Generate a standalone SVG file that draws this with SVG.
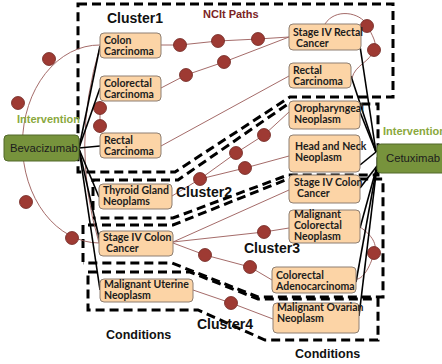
<svg xmlns="http://www.w3.org/2000/svg" width="442" height="364" viewBox="0 0 442 364">
  <defs>
    <style>
      .cond { fill: #fcd4a6; stroke: #8e7f72; stroke-width: 1; }
      .drug { fill: #77933c; stroke: #52692a; stroke-width: 1; }
      .nt { font-family: Lato, "Liberation Sans", sans-serif; font-weight: 700; font-size: 10.5px; fill: #1c1c1c; }
      .dt { font-family: "Liberation Sans", Arial, sans-serif; font-size: 11.3px; fill: #1c1c1c; }
      .cl { font-family: "Liberation Sans", Arial, sans-serif; font-weight: 700; font-size: 14px; fill: #111; }
      .cap { font-family: "Liberation Sans", Arial, sans-serif; font-weight: 700; font-size: 12.5px; fill: #111; }
      .iv { font-family: "Liberation Sans", Arial, sans-serif; font-weight: 700; font-size: 11px; fill: #8aa83c; }
      .ncit { font-family: "Liberation Sans", Arial, sans-serif; font-weight: 700; font-size: 11px; fill: #7b2424; }
      .box { fill: none; stroke: #000; stroke-width: 3; stroke-dasharray: 9 5; }
      .path { fill: none; stroke: #9a5a58; stroke-width: 0.9; }
      .link { fill: none; stroke: #000; stroke-width: 1.6; }
      .dot { fill: #9e3a33; stroke: #6e2420; stroke-width: 0.8; }
    </style>
  </defs>

  <rect width="442" height="364" fill="#fff"/>

  <!-- cluster outlines -->
  <g id="clusters">
    <path class="box" d="M78,4 H393 V97 H290 L175,172 H78 Z"/>
    <path class="box" d="M93,210 V180 H178 L288,104 H378 V175 H288 L173,218 H93"/>
    <path class="box" d="M83,262 V225 H173 L288,179 H383 V297 H258 L172,263 H83"/>
    <path class="box" d="M88,272 H190 L258,299 H378 V340 H265 L198,310 H88 Z"/>
  </g>

  <!-- connectors: NCIt paths (brown with path nodes) and intervention links (black) -->
  <g id="connectors">
    <path class="path" d="M100,45 A77,99 0 1 0 99,243"/>
    <path class="path" d="M100,47 Q70,145 99,243"/>
    <path class="path" d="M161,45 L180,45 L218,41 L258,39 L289,37"/>
    <path class="path" d="M161,88 L186,75 L224,62 L289,37"/>
    <path class="path" d="M161,146 L289,76"/>
    <path class="path" d="M100,101 V133"/>
    <path class="path" d="M325,24 C335,8 360,12 367,25 C372,35 378,44 374,50 C370,62 355,65 352,78"/>
    <path class="path" d="M172,196 L200,179 L236,153 L264,135 L289,112"/>
    <path class="path" d="M200,179 L245,168 L289,156"/>
    <path class="path" d="M173,242 L289,190"/>
    <path class="path" d="M173,242 L264,232 L289,228"/>
    <path class="path" d="M173,243 L205,255 L250,267 L272,280"/>
    <path class="path" d="M360,227 C372,235 378,245 374,253 C370,268 362,280 356,279"/>
    <path class="path" d="M193,290 L231,303 L273,319"/>

    <g>
      <circle class="dot" cx="49" cy="59" r="6.5"/>
      <circle class="dot" cx="18" cy="103" r="6.5"/>
      <circle class="dot" cx="26" cy="202" r="6.5"/>
      <circle class="dot" cx="72" cy="238" r="6.5"/>
      <circle class="dot" cx="180" cy="45" r="6.5"/>
      <circle class="dot" cx="218" cy="41" r="6.5"/>
      <circle class="dot" cx="258" cy="39" r="6.5"/>
      <circle class="dot" cx="186" cy="75" r="6.5"/>
      <circle class="dot" cx="224" cy="62" r="6.5"/>
      <circle class="dot" cx="100" cy="108" r="6.5"/>
      <circle class="dot" cx="100" cy="126" r="6.5"/>
      <circle class="dot" cx="367" cy="26" r="6.5"/>
      <circle class="dot" cx="374" cy="50" r="6.5"/>
      <circle class="dot" cx="200" cy="179" r="6.5"/>
      <circle class="dot" cx="236" cy="153" r="6.5"/>
      <circle class="dot" cx="264" cy="135" r="6.5"/>
      <circle class="dot" cx="245" cy="168" r="6.5"/>
      <circle class="dot" cx="264" cy="232" r="6.5"/>
      <circle class="dot" cx="205" cy="255" r="6.5"/>
      <circle class="dot" cx="250" cy="267" r="6.5"/>
      <circle class="dot" cx="374" cy="253" r="6.5"/>
      <circle class="dot" cx="231" cy="303" r="6.5"/>
    </g>

    <path class="link" d="M79,148 L100,46"/>
    <path class="link" d="M79,148 L100,88"/>
    <path class="link" d="M79,148 L100,146"/>
    <path class="link" d="M79,149 L99,197"/>
    <path class="link" d="M79,149 L100,242"/>
    <path class="link" d="M79,149 L100,290"/>

    <path class="link" d="M360,46 L376,152"/>
    <path class="link" d="M351,76 L376,152"/>
    <path class="link" d="M360,112 L376,152"/>
    <path class="link" d="M360,165 L376,152"/>
    <path class="link" d="M360,188 L377,166"/>
    <path class="link" d="M360,228 L377,166"/>
    <path class="link" d="M356,282 L377,166"/>
    <path class="link" d="M359,316 L377,166"/>
  </g>

  <!-- intervention nodes -->
  <g id="bevacizumab">
    <rect class="drug" x="4" y="135" width="75" height="26" rx="4"/>
    <text class="dt" x="10" y="152">Bevacizumab</text>
  </g>
  <g id="cetuximab">
    <rect class="drug" x="377" y="144" width="72" height="29" rx="4"/>
    <text class="dt" x="386" y="162">Cetuximab</text>
  </g>

  <!-- condition nodes -->
  <g id="colon-carcinoma">
    <rect class="cond" x="100" y="33" width="61" height="25" rx="4"/>
    <text class="nt" x="104"><tspan x="104" y="44">Colon</tspan><tspan x="104" y="54.5">Carcinoma</tspan></text>
  </g>
  <g id="colorectal-carcinoma">
    <rect class="cond" x="100" y="76" width="61" height="25" rx="4"/>
    <text class="nt"><tspan x="104" y="87">Colorectal</tspan><tspan x="104" y="97.5">Carcinoma</tspan></text>
  </g>
  <g id="rectal-carcinoma-left">
    <rect class="cond" x="100" y="133" width="61" height="25" rx="4"/>
    <text class="nt"><tspan x="104" y="144">Rectal</tspan><tspan x="104" y="154.5">Carcinoma</tspan></text>
  </g>
  <g id="stage-iv-rectal-cancer">
    <rect class="cond" x="289" y="24" width="72" height="26" rx="4"/>
    <text class="nt"><tspan x="293" y="36">Stage IV Rectal</tspan><tspan x="296" y="46.5">Cancer</tspan></text>
  </g>
  <g id="rectal-carcinoma-right">
    <rect class="cond" x="289" y="63" width="62" height="25" rx="4"/>
    <text class="nt"><tspan x="293" y="74">Rectal</tspan><tspan x="293" y="84.5">Carcinoma</tspan></text>
  </g>
  <g id="oropharyngeal-neoplasm">
    <rect class="cond" x="289" y="101" width="71" height="28" rx="4"/>
    <text class="nt"><tspan x="294" y="112">Oropharyngeal</tspan><tspan x="294" y="122.5">Neoplasm</tspan></text>
  </g>
  <g id="head-and-neck-neoplasm">
    <rect class="cond" x="289" y="135" width="71" height="37" rx="4"/>
    <text class="nt"><tspan x="295" y="150">Head and Neck</tspan><tspan x="295" y="160.5">Neoplasm</tspan></text>
  </g>
  <g id="thyroid-gland-neoplams">
    <rect class="cond" x="99" y="184" width="73" height="25" rx="4"/>
    <text class="nt"><tspan x="103" y="194">Thyroid Gland</tspan><tspan x="103" y="204.5">Neoplams</tspan></text>
  </g>
  <g id="stage-iv-colon-cancer-left">
    <rect class="cond" x="99" y="231" width="74" height="25" rx="4"/>
    <text class="nt"><tspan x="103" y="241">Stage IV Colon</tspan><tspan x="106" y="251.5">Cancer</tspan></text>
  </g>
  <g id="stage-iv-colon-cancer-right">
    <rect class="cond" x="289" y="175" width="71" height="28" rx="4"/>
    <text class="nt"><tspan x="294" y="186">Stage IV Colon</tspan><tspan x="297" y="196.5">Cancer</tspan></text>
  </g>
  <g id="malignant-colorectal-neoplasm">
    <rect class="cond" x="289" y="210" width="71" height="33" rx="4"/>
    <text class="nt"><tspan x="294" y="218">Malignant</tspan><tspan x="294" y="228.5">Colorectal</tspan><tspan x="294" y="239.5">Neoplasm</tspan></text>
  </g>
  <g id="colorectal-adenocarcinoma">
    <rect class="cond" x="272" y="267" width="84" height="26" rx="4"/>
    <text class="nt"><tspan x="276" y="279">Colorectal</tspan><tspan x="276" y="289.5">Adenocarcinoma</tspan></text>
  </g>
  <g id="malignant-uterine-neoplasm">
    <rect class="cond" x="100" y="279" width="93" height="23" rx="4"/>
    <text class="nt"><tspan x="104" y="288">Malignant Uterine</tspan><tspan x="104" y="298.5">Neoplasm</tspan></text>
  </g>
  <g id="malignant-ovarian-neoplasm">
    <rect class="cond" x="273" y="303" width="86" height="30" rx="4"/>
    <text class="nt"><tspan x="277" y="311">Malignant Ovarian</tspan><tspan x="277" y="321.5">Neoplasm</tspan></text>
  </g>

  <!-- labels -->
  <g id="labels">
    <text class="cl" x="107" y="23">Cluster1</text>
    <text class="ncit" x="203" y="18">NCIt Paths</text>
    <text class="cl" x="176" y="197">Cluster2</text>
    <text class="cl" x="244" y="253">Cluster3</text>
    <text class="cl" x="197" y="329">Cluster4</text>
    <text class="iv" x="17" y="123">Intervention</text>
    <text class="iv" x="383" y="135">Intervention</text>
    <text class="cap" x="106" y="339">Conditions</text>
    <text class="cap" x="295" y="358">Conditions</text>
  </g>
</svg>
